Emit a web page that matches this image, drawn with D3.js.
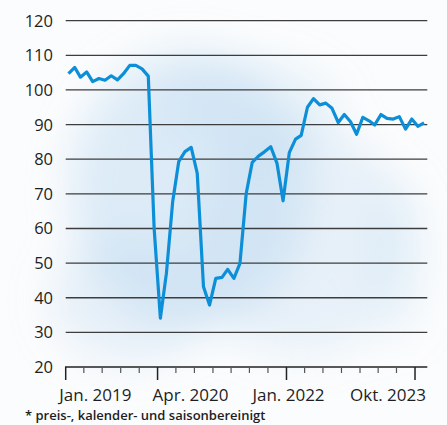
<!DOCTYPE html>
<html>
<head>
<meta charset="utf-8">
<script src="https://cdn.jsdelivr.net/npm/d3@7"></script>
<style>
  html, body { margin: 0; padding: 0; background: #fbfcfd; }
  svg { display: block; font-family: "Open Sans", sans-serif; }
</style>
</head>
<body>
<div id="chart"></div>
<script>

// monthly index values, Jan 2019 - Nov 2023
const values2019 = [104.7, 106.5, 103.7, 105.2, 102.4, 103.3, 102.8, 104.1, 102.9, 104.7, 107.1, 107.1];
const values2020 = [106.1, 104.0, 60.0, 34.1, 47.1, 67.7, 79.3, 82.2, 83.4, 75.9, 43.2, 37.9];
const values2021 = [45.6, 45.9, 48.2, 45.6, 49.9, 70.1, 79.1, 80.9, 82.2, 83.6, 78.8, 68.0];
const values2022 = [81.9, 85.8, 86.9, 95.0, 97.5, 95.7, 96.2, 94.7, 90.6, 92.9, 90.8, 87.2];
const values2023 = [92.1, 91.1, 89.9, 92.9, 91.8, 91.6, 92.3, 88.7, 91.6, 89.5, 90.5];

const firstMonth = "2019-01";
const lastAxisMonth = "2023-12";

const yTicks = [20, 30, 40, 50, 60, 70, 80, 90, 100, 110, 120];
const tickDates = ["2019-01", "2020-04", "2022-01", "2023-10"];
const tickLabels = ["Jan. 2019", "Apr. 2020", "Jan. 2022", "Okt. 2023"];
const footnote = "* preis-, kalender- und saisonbereinigt";

const parseMonth = d3.timeParse("%Y-%m");

const width = 447, height = 425;
const margin = {top: 20.7, right: 19.7, bottom: 58, left: 65.7};

const allValues = [].concat(values2019, values2020, values2021, values2022, values2023);
const start = parseMonth(firstMonth);
const data = allValues.map(function(v, i) {
	let d = d3.timeMonth.offset(start, i);
	return {date: d3.timeDay.offset(d, 14), value: v};
});

const svg = d3.select("#chart").append("svg")
	.attr("width", width)
	.attr("height", height);

// soft watercolour wash behind the plot
const defs = svg.append("defs");
defs.append("filter")
	.attr("id", "wash")
	.attr("x", "-50%").attr("y", "-50%").attr("width", "200%").attr("height", "200%")
	.append("feGaussianBlur")
	.attr("stdDeviation", 20);

const wash = svg.append("g").attr("filter", "url(#wash)");
const blobs = [
	{cx: 190, cy: 190, rx: 120, ry: 140, o: 0.45},
	{cx: 300, cy: 240, rx: 110, ry: 115, o: 0.3},
	{cx: 130, cy: 300, rx: 80, ry: 65, o: 0.3},
	{cx: 250, cy: 110, rx: 90, ry: 50, o: 0.25},
	{cx: 395, cy: 260, rx: 30, ry: 80, o: 0.2}
];
wash.selectAll("ellipse")
	.data(blobs)
	.enter().append("ellipse")
	.attr("cx", d => d.cx).attr("cy", d => d.cy)
	.attr("rx", d => d.rx).attr("ry", d => d.ry)
	.attr("fill", "#b8d8f0")
	.attr("opacity", d => d.o);

// scales
const x = d3.scaleTime()
	.domain([start, parseMonth(lastAxisMonth)])
	.range([margin.left, width - margin.right]);

const y = d3.scaleLinear()
	.domain([20, 120])
	.range([height - margin.bottom, margin.top]);

// gridlines
svg.append("g")
	.selectAll("line")
	.data(yTicks.filter(t => t > 20))
	.enter().append("line")
	.attr("x1", x.range()[0])
	.attr("x2", x.range()[1])
	.attr("y1", d => y(d))
	.attr("y2", d => y(d))
	.attr("stroke", "#3d3d3d")
	.attr("stroke-width", 1.3);

// y labels
svg.append("g")
	.selectAll("text")
	.data(yTicks)
	.enter().append("text")
	.attr("x", 53)
	.attr("y", d => y(d))
	.attr("dy", "0.36em")
	.attr("text-anchor", "end")
	.attr("fill", "#1e1e1e")
	.attr("font-size", 16.5)
	.text(d => d);

// x axis: quarterly ticks, long ones at the labelled dates
const quarters = d3.timeMonth.every(3).range(start, d3.timeDay.offset(parseMonth(lastAxisMonth), 1));
const majors = tickDates.map(s => +parseMonth(s));

const axis = svg.append("g");
axis.append("line")
	.attr("x1", x.range()[0] - 0.7)
	.attr("x2", x.range()[1])
	.attr("y1", y(20))
	.attr("y2", y(20))
	.attr("stroke", "#222")
	.attr("stroke-width", 1.5);

axis.selectAll(".tick")
	.data(quarters)
	.enter().append("line")
	.attr("class", "tick")
	.attr("x1", d => x(d))
	.attr("x2", d => x(d))
	.attr("y1", y(20))
	.attr("y2", d => y(20) + (majors.indexOf(+d) >= 0 ? 13 : 6))
	.attr("stroke", d => majors.indexOf(+d) >= 0 ? "#222" : "#555")
	.attr("stroke-width", d => majors.indexOf(+d) >= 0 ? 1.5 : 1.2);

const labelAnchor = ["start", "start", "middle", "end"];
const labelShift = [-6.5, -5, 2, 11];
axis.selectAll(".xlabel")
	.data(tickLabels)
	.enter().append("text")
	.attr("class", "xlabel")
	.attr("x", (d, i) => x(parseMonth(tickDates[i])) + labelShift[i])
	.attr("y", 400.5)
	.attr("text-anchor", (d, i) => labelAnchor[i])
	.attr("fill", "#1e1e1e")
	.attr("font-size", 17)
	.text(d => d);

// the series
const line = d3.line()
	.x(d => x(d.date))
	.y(d => y(d.value));

svg.append("path")
	.datum(data)
	.attr("d", line)
	.attr("fill", "none")
	.attr("stroke", "#0d8fd8")
	.attr("stroke-width", 3.2)
	.attr("stroke-linejoin", "round");

// footnote
svg.append("text")
	.attr("x", 25)
	.attr("y", 420)
	.attr("fill", "#1e1e1e")
	.attr("font-size", 13)
	.attr("font-weight", 600)
	.text(footnote);

</script>
</body>
</html>
